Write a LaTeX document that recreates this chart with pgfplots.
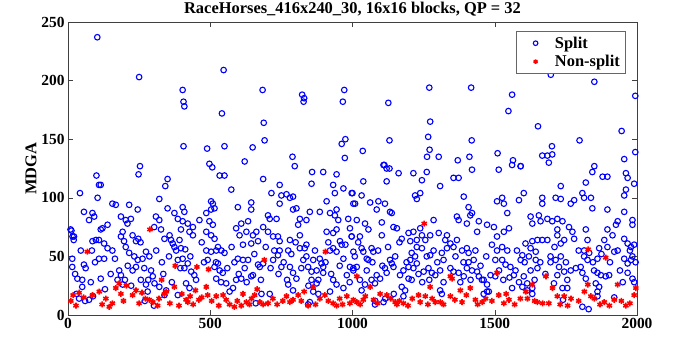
\documentclass[border=0pt]{standalone}
\usepackage{fontspec}
\setmainfont{Liberation Serif}
\usepackage{pgfplots}
\pgfplotsset{compat=1.18}
\begin{document}
\begin{tikzpicture}
\begin{axis}[
 scale only axis, width=569bp, height=293bp,
 xmin=0,xmax=2000,ymin=0,ymax=250,
 xtick={0,500,1000,1500,2000}, ytick={0,50,100,150,200,250},
 tick align=inside, major tick length=5bp,
 /pgf/number format/assume math mode=true,
 /pgf/number format/1000 sep={},
 ticklabel style={font=\bfseries\fontsize{15.5}{15.5}\selectfont},
 title={RaceHorses\_416x240\_30, 16x16 blocks, QP = 32},
 title style={font=\bfseries\fontsize{16.5}{16.5}\selectfont, yshift=-4bp},
 ylabel={MDGA}, ylabel style={font=\bfseries\fontsize{16.5}{16.5}\selectfont, yshift=-2bp},
 axis line style={black!75}, tick style={black!75},
 legend style={at={(0.981,0.968)}, anchor=north east, draw=black!60, line width=0.8bp, font=\bfseries\fontsize{16.5}{16.5}\selectfont, row sep=1.5bp, inner xsep=4bp, inner ysep=3bp, /tikz/every odd column/.append style={column sep=6bp}},
 legend image code/.code={\path[draw=none,fill=none] (0cm,0cm) -- (0.95cm,0cm); \draw[mark size=2.3bp] plot coordinates {(0.55cm,0cm)};},
 legend cell align=left,
]
\addplot[only marks, mark=o, mark size=2.8bp, draw=blue, line width=1.1bp] coordinates {
(103,237)(250,203)(403,192)(406,182)(409,178)(547,209)(541,172)(684,192)(688,164)(691,149)(823,188)(830,185)(828,182)(971,192)(966,182)(975,150)(962,146)(973,134)(406,144)(489,142)(550,144)(649,143)(621,131)(789,135)(797,127)(497,129)(507,126)(253,127)(858,122)
(1270,194)(1417,194)(1561,188)(1126,181)(1548,174)(1273,165)(1850,199)(1697,205)(1994,187)(1652,161)(1946,157)(1266,152)(1130,149)(1419,149)(1798,149)(1036,140)(1271,141)(1701,144)(1994,139)(1510,138)(1262,135)(1303,135)(1370,132)(1411,135)(1564,132)(1591,127)(1667,136)(1685,136)(1702,137)(1690,130)(1955,133)(1850,127)(1112,128)(1130,125)
(248,120)(100,119)(109,111)(115,111)(42,104)(104,100)(321,99)(350,116)(342,110)(156,95)(168,94)(215,94)(245,90)(56,88)(86,87)(74,81)(92,84)(121,74)(115,73)(139,77)(9,73)(21,67)(15,48)(15,41)(33,31)(50,30)(56,43)(50,24)(74,13)(39,14)(84,55)(86,63)(98,64)(109,64)(127,61)(139,57)(109,48)(127,48)(115,31)(156,55)
(186,84)(203,81)(221,82)(209,78)(192,71)(186,67)(197,63)(203,58)(227,68)(239,63)(247,65)(215,53)(233,50)(245,47)(239,41)(227,38)(180,38)(186,34)(174,30)(192,26)(262,48)(274,54)(286,50)(292,38)(298,33)(256,30)(274,26)(280,20)(304,27)(321,24)(345,21)(339,17)(309,84)(321,81)(303,75)(327,73)(339,65)(357,68)(362,64)(368,61)(374,58)(350,91)(374,87)(403,92)(409,88)(386,82)(403,80)(421,78)(439,75)(427,71)(439,68)(397,73)(392,64)(380,55)(397,57)(386,47)(403,48)(421,44)(409,40)(433,37)(444,34)(415,27)(427,23)(386,17)
(462,81)(486,87)(503,97)(509,95)(503,90)(515,91)(497,80)(509,77)(486,71)(503,68)(515,65)(527,58)(486,55)(503,54)(521,55)(539,55)(550,53)(491,47)(515,41)(527,44)(533,38)(544,36)(521,31)(580,23)(568,20)(556,27)(591,30)(609,31)(533,119)(550,119)(574,107)(597,92)(644,96)(644,90)(591,74)(609,78)(633,80)(603,68)(627,71)(650,68)(662,71)(644,61)(668,63)(597,48)(615,47)(633,47)(621,40)(644,33)(650,34)(668,43)(674,41)(686,44)(680,18)(709,18)
(686,116)(715,104)(744,111)(750,102)(768,103)(791,101)(780,100)(791,90)(803,91)(744,95)(703,85)(709,82)(733,82)(686,75)(703,71)(738,67)(744,63)(721,67)(774,55)(780,64)(744,55)(721,47)(738,51)(750,41)(780,41)(791,36)(803,31)(774,26)(791,21)(815,82)(838,81)(809,77)(815,68)(850,88)(885,88)(909,97)(856,112)(897,122)(944,120)(932,111)(938,104)(968,108)(997,104)(1003,95)(921,87)(944,90)(938,85)(950,81)(985,82)(991,74)(909,71)(932,70)(944,73)(956,63)(962,60)(997,67)(1003,54)(838,60)(832,57)(815,57)(838,50)(827,47)(862,47)(885,48)(891,44)(844,41)(856,37)(874,38)(897,41)(897,36)(856,30)(874,27)(862,20)(880,18)(844,9)(921,55)(932,57)(944,54)(968,48)(991,41)(1003,38)(980,34)(932,30)(944,26)(921,20)(968,23)
(1109,128)(1120,125)(1162,121)(1038,114)(1120,114)(1000,104)(1032,102)(1009,95)(1062,96)(1091,97)(1114,95)(1085,90)(1132,88)(1138,87)(1015,81)(1044,78)(1103,79)(1144,75)(1156,74)(1056,73)(1103,68)(997,67)(1026,67)(1173,65)(1197,70)(1214,71)(1203,63)(1226,64)(1244,68)(1238,74)(1256,64)(1273,68)(1303,70)(1285,81)(1220,102)(1238,104)(1226,99)(1214,121)(1261,122)(1244,115)(1308,110)(1355,117)(1373,117)(1391,101)(1420,124)(1408,92)(1420,87)(1414,85)(1367,84)(1373,81)(1402,78)(1444,80)(1473,77)(1497,75)(1438,71)(1508,67)(1532,71)(1550,74)(1544,87)(1508,97)(1526,100)(1532,95)(1514,124)(1591,127)(1602,104)(1585,98)(1561,128)(1667,100)(1667,95)(1626,84)(1655,85)(1632,78)(1661,80)(1685,82)(1702,80)(1720,82)(1738,80)(1732,110)(1714,100)(1732,99)(1767,95)(1779,98)(1808,104)(1814,100)(1838,100)(1843,91)(1820,113)(1879,118)(1896,118)(1896,90)(1843,122)(1955,102)(1961,107)(1955,88)(1961,121)(1967,117)(1990,112)
(1932,80)(1926,77)(1984,81)(1984,77)(1896,73)(1914,68)(1885,64)(1896,58)(1955,65)(1967,61)(1979,58)(1990,60)(1984,50)(1979,47)(1967,44)(1955,48)(1920,54)(1932,55)(1867,57)(1861,48)(1820,73)(1826,64)(1814,55)(1832,53)(1814,50)(1826,47)(1802,41)(1808,36)(1820,31)(1849,38)(1861,36)(1873,34)(1890,33)(1902,34)(1855,27)(1867,24)(1861,20)(1967,36)(1984,31)(1990,28)(1761,75)(1773,71)(1779,65)(1720,73)(1720,68)(1732,61)(1744,64)(1685,64)(1667,64)(1650,64)(1632,63)(1608,61)(1626,57)(1644,54)(1597,51)(1591,47)(1696,50)(1714,47)(1732,50)(1696,45)(1726,41)(1744,37)(1767,38)(1720,34)(1755,30)(1708,27)(1644,47)(1626,38)(1650,40)(1602,33)(1614,27)(1632,18)(1573,38)(1567,34)(1585,28)(1597,24)(1561,23)
(1508,55)(1526,58)(1544,55)(1502,47)(1526,47)(1538,43)(1555,41)(1485,34)(1502,33)(1461,30)(1473,26)(1479,20)(1444,33)(1455,30)(1426,47)(1408,45)(1385,55)(1402,57)(1408,53)(1344,61)(1355,58)(1367,64)(1326,64)(1332,68)(1332,57)(1314,53)(1320,47)(1344,40)(1355,37)(1373,36)(1402,40)(1420,38)(1438,37)(1391,33)(1379,28)(1308,38)(1291,34)(1279,36)(1308,21)(1314,18)(1267,40)(1250,37)(1285,55)(1273,51)(1261,50)(1244,57)(1226,58)(1208,53)(1220,50)(1203,47)(1197,41)(1214,40)(1226,44)(1179,38)(1167,34)(1197,31)(1208,30)(1132,47)(1138,44)(1144,41)(1114,40)(1120,36)(1085,34)(1097,31)(1067,30)(1079,27)(1050,48)(1056,47)(1067,57)(1073,54)(1032,57)(1038,54)(1015,41)(1003,40)(1026,30)(1044,26)(1032,21)(1109,11)(1079,9)(1173,24)(1185,21)(1179,16)(1461,18)(1473,20)(1614,21)(1632,23)(1738,23)(1755,23)(1808,7)(1861,16)
(12,72)(16,67)(20,64)(30,18)(60,12)(88,16)(270,12)(302,8)(660,10)(850,11)(1080,12)(1115,14)(1145,18)(1740,13)(1830,5)(1920,15)
(25,35)(45,55)(62,40)(80,28)(95,45)(130,22)(150,35)(165,48)(200,30)(210,42)(222,25)(255,62)(268,40)(282,30)(310,55)(330,45)(335,35)(355,50)(365,28)(395,40)(412,56)(430,50)(450,30)(470,62)(478,45)(520,45)(538,28)(560,40)(575,58)(585,45)(600,35)(615,60)(628,28)(655,52)(678,30)(695,58)(712,40)(725,55)(740,35)(758,45)(770,30)(785,52)(800,62)(820,40)(845,25)(868,55)(880,30)(905,45)(915,62)(925,35)(955,42)(975,60)(990,28)(1008,50)(1020,62)(1050,38)(1070,45)(1090,55)(1105,42)(1125,58)(1150,50)(1165,62)(1190,45)(1232,35)(1245,28)(1270,30)(1298,45)(1320,28)(1362,50)(1390,45)(1415,30)(1432,55)(1450,42)(1470,50)(1490,60)(1515,38)(1530,30)(1552,32)(1578,55)(1605,45)(1620,50)(1640,30)(1660,45)(1678,35)(1710,58)(1750,45)(1785,40)(1795,55)(1845,45)(1875,52)(1905,45)(1940,38)(1950,28)(1975,55)(1995,45)
};
\addlegendentry{Split}
\addplot[only marks, mark=asterisk, mark size=3bp, draw=red, line width=1.6bp] coordinates {
(288,73)(68,54)(377,42)(453,41)(494,39)(690,47)(905,54)(1015,33)(329,30)
(18,17)(39,19)(86,17)(133,14)(145,7)(156,10)(168,23)(180,27)(186,18)(227,17)(239,21)(272,14)(286,13)(298,11)(315,8)(339,18)(345,20)(374,24)(415,13)(421,11)(429,16)(448,21)(460,13)(486,24)(491,17)(521,16)(545,17)(556,13)(568,9)(585,7)(609,8)(627,11)(638,9)(656,17)(674,11)(686,9)(703,10)(768,16)(780,11)(791,13)(809,17)(844,8)(862,24)(903,17)(932,10)(944,8)(980,16)(991,10)(1003,13)(1015,11)
(1252,78)(1828,56)(1890,49)(1508,36)(1344,33)(1350,31)
(1027,9)(1038,13)(1062,24)(1074,13)(1097,18)(1121,17)(1150,11)(1156,9)(1179,10)(1232,17)(1238,11)(1256,16)(1273,24)(1291,11)(1309,11)(1344,16)(1379,21)(1385,11)(1414,23)(1432,13)(1456,11)(1468,14)(1514,17)(1532,10)(1550,13)(1609,20)(1615,14)(1632,26)(1650,11)(1668,10)(1680,33)(1703,23)(1720,16)(1744,16)(1756,8)(1815,20)(1827,26)(1838,16)(1885,11)(1903,8)(1920,13)(1932,26)(1961,8)(1990,17)(1996,23)
(10,12)(28,8)(55,15)(110,20)(120,9)(195,12)(205,25)(250,10)(260,19)(320,14)(358,10)(390,8)(400,18)(440,9)(470,15)(505,12)(530,8)(595,12)(615,18)(645,14)(665,22)(720,14)(735,9)(755,12)(820,12)(830,20)(870,9)(885,14)(915,12)(955,14)(965,9)(1045,16)(1088,10)(1135,14)(1165,12)(1195,8)(1210,14)(1265,9)(1280,14)(1320,9)(1360,13)(1400,17)(1440,9)(1490,12)(1540,18)(1570,9)(1590,14)(1640,12)(1690,10)(1730,9)(1768,14)(1795,12)(1850,14)(1870,9)(1945,12)(1975,10)
};
\addlegendentry{Non-split}
\end{axis}
\pgfresetboundingbox
\path (current axis.south west) ++(-68bp,-28bp) rectangle ([shift={(46bp,22bp)}]current axis.north east);
\end{tikzpicture}
\end{document}
